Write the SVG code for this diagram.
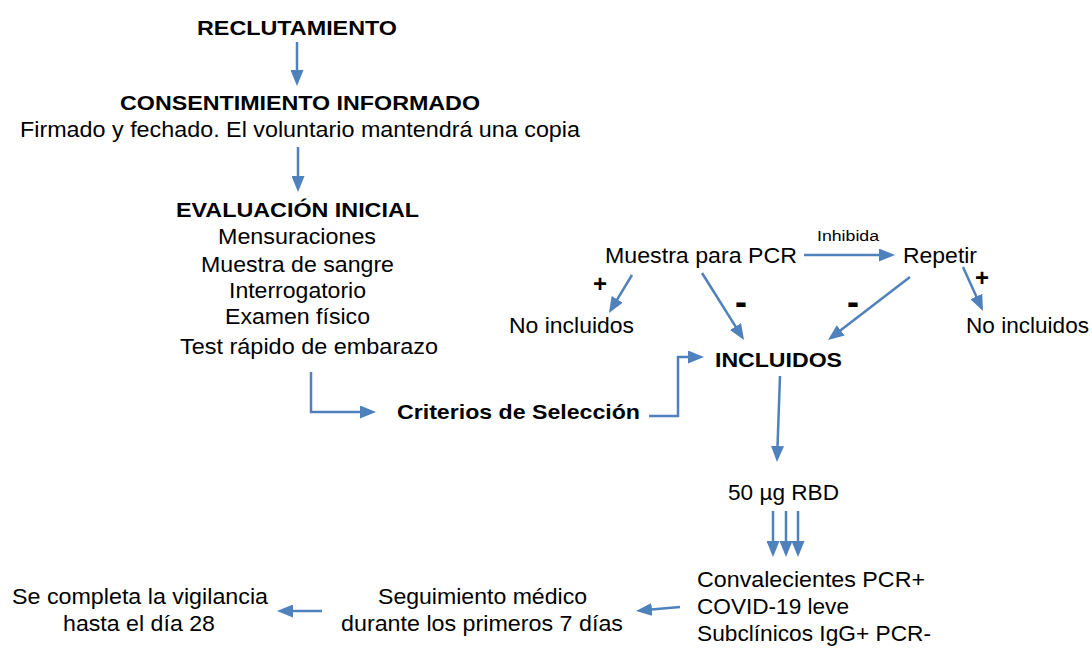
<svg xmlns="http://www.w3.org/2000/svg" width="1092" height="648" viewBox="0 0 1092 648">
<style>
text{font-family:"Liberation Sans",Arial,sans-serif;font-size:22px;fill:#000}
.b{font-weight:bold;font-size:21px}
.s{font-size:14px}
.p{font-weight:bold;font-size:24px}
.m{font-weight:bold;font-size:36px}
.c{fill:none;stroke:#4F81BD;stroke-width:2.5;marker-end:url(#ah)}
</style>
<defs>
<marker id="ah" markerUnits="userSpaceOnUse" markerWidth="16" markerHeight="13" refX="12" refY="6.5" orient="auto" viewBox="0 0 16 13">
<path d="M0,0 L16,6.5 L0,13 z" fill="#4F81BD"/>
</marker>
</defs>
<rect width="1092" height="648" fill="#fff"/>
<g id="connectors">
<line class="c" x1="297" y1="42" x2="297" y2="82"/>
<line class="c" x1="298" y1="147" x2="298" y2="188"/>
<polyline class="c" points="311,372 311,412 372,412"/>
<polyline class="c" points="649,416 678,416 678,357 700,357"/>
<line class="c" x1="804" y1="255" x2="891" y2="255"/>
<line class="c" x1="632" y1="275" x2="611" y2="309.6"/>
<line class="c" x1="702" y1="273" x2="741.9" y2="336.6"/>
<line class="c" x1="910" y1="277" x2="831.2" y2="337.6"/>
<line class="c" x1="963" y1="267" x2="981.3" y2="307.4"/>
<line class="c" x1="780" y1="376" x2="777.1" y2="458"/>
<line class="c" x1="773" y1="511" x2="773" y2="553"/>
<line class="c" x1="786" y1="511" x2="786" y2="553"/>
<line class="c" x1="798" y1="511" x2="798" y2="553"/>
<line class="c" x1="680" y1="607" x2="640" y2="610.6"/>
<line class="c" x1="322" y1="611" x2="281" y2="611"/>
</g>
<g id="n_reclutamiento"><text class="b" x="197" y="35" textLength="200" lengthAdjust="spacingAndGlyphs">RECLUTAMIENTO</text></g>
<g id="n_consentimiento">
<text class="b" x="120" y="110" textLength="360" lengthAdjust="spacingAndGlyphs">CONSENTIMIENTO INFORMADO</text>
<text x="20" y="137" textLength="560" lengthAdjust="spacingAndGlyphs">Firmado y fechado. El voluntario mantendrá una copia</text>
</g>
<g id="n_evaluacion">
<text class="b" x="176" y="217" textLength="243" lengthAdjust="spacingAndGlyphs">EVALUACIÓN INICIAL</text>
<text x="218" y="244" textLength="158" lengthAdjust="spacingAndGlyphs">Mensuraciones</text>
<text x="201" y="272" textLength="193" lengthAdjust="spacingAndGlyphs">Muestra de sangre</text>
<text x="229" y="298" textLength="137" lengthAdjust="spacingAndGlyphs">Interrogatorio</text>
<text x="225" y="324" textLength="145" lengthAdjust="spacingAndGlyphs">Examen físico</text>
<text x="180" y="354" textLength="258" lengthAdjust="spacingAndGlyphs">Test rápido de embarazo</text>
</g>
<g id="n_criterios"><text class="b" x="397" y="419" textLength="243" lengthAdjust="spacingAndGlyphs">Criterios de Selección</text></g>
<g id="n_incluidos"><text class="b" x="715" y="367" textLength="127" lengthAdjust="spacingAndGlyphs">INCLUIDOS</text></g>
<g id="n_pcr"><text x="605" y="263" textLength="192" lengthAdjust="spacingAndGlyphs">Muestra para PCR</text></g>
<g id="n_repetir"><text x="903" y="263" textLength="74" lengthAdjust="spacingAndGlyphs">Repetir</text></g>
<g id="n_noincl1"><text x="509" y="333" textLength="125" lengthAdjust="spacingAndGlyphs">No incluidos</text></g>
<g id="n_noincl2"><text x="966" y="333" textLength="123" lengthAdjust="spacingAndGlyphs">No incluidos</text></g>
<g id="labels">
<text class="s" x="817" y="241" textLength="62" lengthAdjust="spacingAndGlyphs">Inhibida</text>
<text class="p" x="600" y="292" text-anchor="middle">+</text>
<text class="p" x="982" y="286" text-anchor="middle">+</text>
<text class="m" x="741" y="314" text-anchor="middle">-</text>
<text class="m" x="853" y="314" text-anchor="middle">-</text>
</g>
<g id="n_rbd"><text x="728" y="500" textLength="111" lengthAdjust="spacingAndGlyphs">50 µg RBD</text></g>
<g id="n_grupos">
<text x="697" y="587" textLength="228" lengthAdjust="spacingAndGlyphs">Convalecientes PCR+</text>
<text x="697" y="614" textLength="152" lengthAdjust="spacingAndGlyphs">COVID-19 leve</text>
<text x="697" y="641" textLength="234" lengthAdjust="spacingAndGlyphs">Subclínicos IgG+ PCR-</text>
</g>
<g id="n_seguimiento">
<text x="378" y="604" textLength="209" lengthAdjust="spacingAndGlyphs">Seguimiento médico</text>
<text x="341" y="631" textLength="282" lengthAdjust="spacingAndGlyphs">durante los primeros 7 días</text>
</g>
<g id="n_vigilancia">
<text x="12" y="604" textLength="256" lengthAdjust="spacingAndGlyphs">Se completa la vigilancia</text>
<text x="63" y="631" textLength="152" lengthAdjust="spacingAndGlyphs">hasta el día 28</text>
</g>
</svg>
